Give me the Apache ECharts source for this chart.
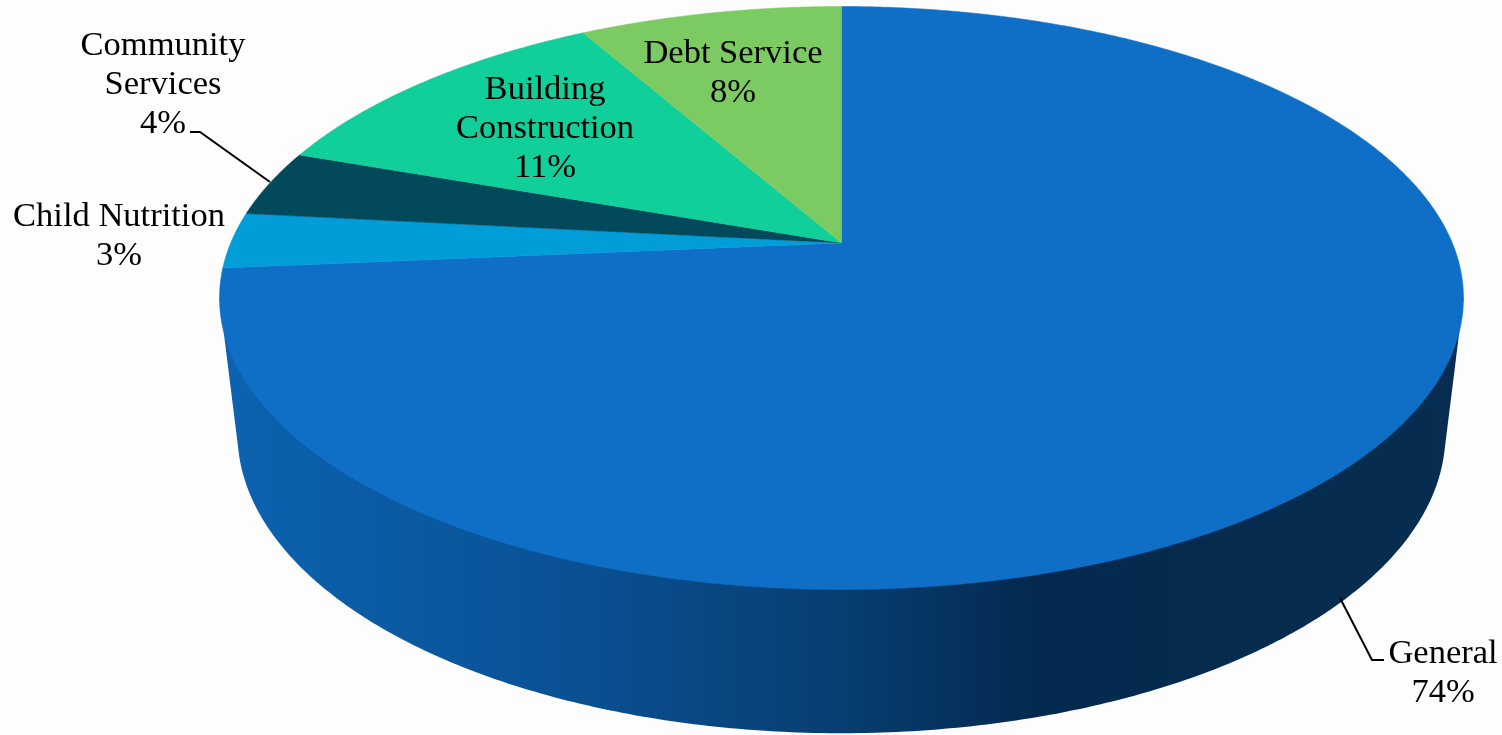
<!DOCTYPE html>
<html>
<head>
<meta charset="utf-8">
<style>html,body{margin:0;padding:0;background:#fdfdfd}#c{width:1502px;height:735px}</style>
<script src="https://cdn.jsdelivr.net/npm/echarts@6/dist/echarts.min.js"></script>
</head>
<body>
<div id="c"></div>
<script>
// Data, clockwise from 12 o'clock
const categories = ['General', 'Child Nutrition', 'Community Services', 'Building Construction', 'Debt Service'];
const sliceValues = [73.6, 3.1, 3.7, 11.4, 8.2];
const percentLabels = ['74%', '3%', '4%', '11%', '8%'];

// Styles and layout
const sliceColors = ['#0F6FC6', '#009DD9', '#03495C', '#10CF9B', '#7CCA62'];
const labelLines = [['General'], ['Child Nutrition'], ['Community', 'Services'], ['Building', 'Construction'], ['Debt Service']];
const labelCenters = [[1443, 673], [119, 236], [163, 85], [545, 129], [733, 73]];
const leaders = [
  [[1340, 598], [1372, 660], [1384, 660]],
  null,
  [[190, 132], [200, 132], [270, 182]],
  null, null
];
const PERSPECTIVE = 0.189;              // how far the apex sits above the ellipse centre
const BOTTOM = {cy: -0.466, rx: 0.971, ry: 1.027}; // base ellipse in axis units
const FONT = '"Liberation Serif", serif';

const total = sliceValues.reduce((a, b) => a + b, 0);
const squeeze = Math.sqrt(1 - PERSPECTIVE * PERSPECTIVE);
function project(theta) {
  const x = Math.sin(theta), y = Math.cos(theta), d = 1 + PERSPECTIVE * y;
  return [squeeze * x / d, (y + PERSPECTIVE) / d];
}
function apex() { return [0, PERSPECTIVE]; }

function renderSlice(params, api) {
  const i = params.dataIndex;
  let before = 0;
  for (let k = 0; k < i; k++) before += sliceValues[k];
  const a0 = before / total * 2 * Math.PI;
  const a1 = (before + api.value(1)) / total * 2 * Math.PI;
  const pts = [api.coord(apex())];
  const n = Math.max(8, Math.ceil((a1 - a0) * 120));
  for (let s = 0; s <= n; s++) pts.push(api.coord(project(a0 + (a1 - a0) * s / n)));
  return {type: 'polygon', shape: {points: pts}, style: {fill: sliceColors[i], stroke: sliceColors[i], lineWidth: 0.5}, silent: true};
}

function renderWall(params, api) {
  const pts = [api.coord([-1, 0])];
  const from = 184 * Math.PI / 180, to = 356.5 * Math.PI / 180, n = 240;
  for (let s = 0; s <= n; s++) {
    const t = from + (to - from) * s / n;
    pts.push(api.coord([BOTTOM.rx * Math.cos(t), BOTTOM.cy + BOTTOM.ry * Math.sin(t)]));
  }
  pts.push(api.coord([1, 0]));
  return {
    type: 'polygon', shape: {points: pts}, silent: true,
    style: {fill: new echarts.graphic.LinearGradient(0, 0, 1, 0, [
      {offset: 0, color: '#0C63B0'},
      {offset: 0.25, color: '#0A5398'},
      {offset: 0.5, color: '#083E72'},
      {offset: 0.66, color: '#03294E'},
      {offset: 1, color: '#072D50'}
    ])}
  };
}

function renderLabel(params, api) {
  const i = params.dataIndex;
  const children = [];
  const lines = labelLines[i].concat(percentLabels[i]);
  children.push({
    type: 'text', silent: true,
    style: {
      text: lines.join('\n'), x: labelCenters[i][0], y: labelCenters[i][1],
      align: 'center', verticalAlign: 'middle', lineHeight: 39,
      fontFamily: FONT, fontSize: 34.5, fill: '#000'
    }
  });
  if (leaders[i]) {
    children.push({
      type: 'polyline', silent: true,
      shape: {points: leaders[i]},
      style: {stroke: '#000', lineWidth: 2, fill: null}
    });
  }
  return {type: 'group', children};
}

const rows = sliceValues.map((v, i) => ({name: categories[i], value: [i, v]}));
const chart = echarts.init(document.getElementById('c'), null, {renderer: 'canvas'});
chart.setOption({
  animation: false,
  backgroundColor: '#fdfdfd',
  tooltip: {show: false},
  grid: {left: 219.5, top: 6.5, width: 1244, height: 583},
  xAxis: {type: 'value', min: -1, max: 1, show: false},
  yAxis: {type: 'value', min: -1, max: 1, show: false},
  series: [
    {type: 'custom', clip: false, z: 1, renderItem: renderWall, data: [[0, 0]]},
    {type: 'custom', clip: false, z: 2, renderItem: renderSlice, data: rows},
    {type: 'custom', clip: false, z: 3, renderItem: renderLabel, data: rows}
  ]
});
</script>
</body>
</html>
